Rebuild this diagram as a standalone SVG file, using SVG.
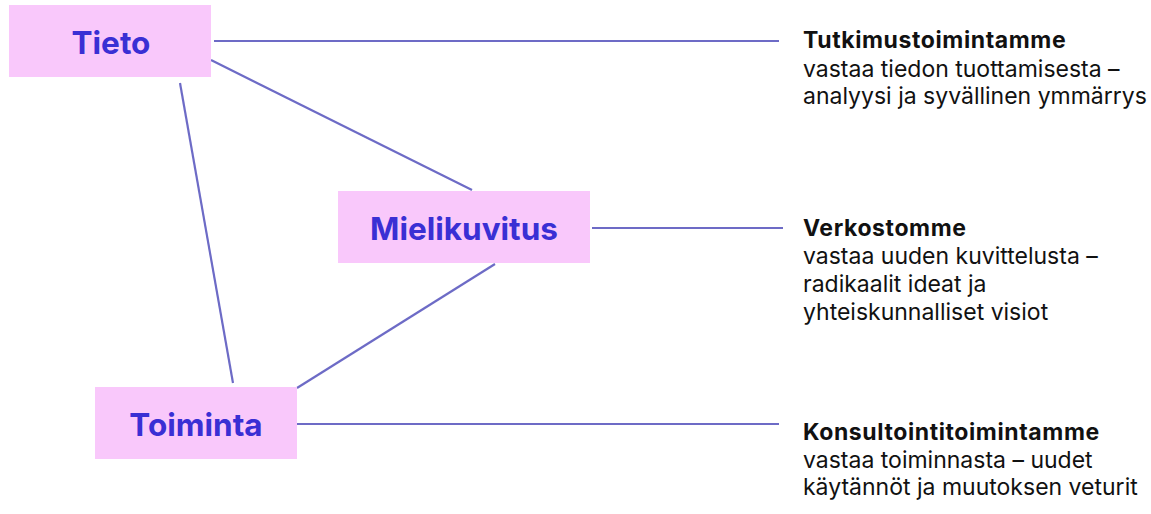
<svg xmlns="http://www.w3.org/2000/svg" width="1151" height="514" viewBox="0 0 1151 514">
<style>
.box{fill:#f9c8fb}
.nt{font-family:Inter,"DejaVu Sans",sans-serif;font-weight:700;font-size:31.5px;fill:#3a2fd4;text-anchor:middle}
.ln{stroke:#6d6bc6;stroke-width:2.2;fill:none}
.d{font-family:Inter,"DejaVu Sans",sans-serif;font-size:23px;fill:#111}
.b{font-weight:700;letter-spacing:0.6px}
</style>
<rect width="1151" height="514" fill="#fff"/>
<g id="connectors">
<line class="ln" x1="214" y1="41" x2="779" y2="41"/>
<line class="ln" x1="211" y1="60" x2="472" y2="190"/>
<line class="ln" x1="180" y1="83" x2="233" y2="383"/>
<line class="ln" x1="495" y1="264" x2="297" y2="388"/>
<line class="ln" x1="592" y1="228" x2="783" y2="228"/>
<line class="ln" x1="297" y1="424" x2="779" y2="424"/>
</g>
<g id="node-tieto"><rect class="box" x="9" y="5" width="202" height="72"/><text class="nt" x="111" y="54">Tieto</text></g>
<g id="node-mielikuvitus"><rect class="box" x="338" y="191" width="252" height="72"/><text class="nt" x="464" y="240">Mielikuvitus</text></g>
<g id="node-toiminta"><rect class="box" x="95" y="387" width="202" height="72"/><text class="nt" x="196" y="436">Toiminta</text></g>
<g id="desc-tieto"><text class="d"><tspan class="b" x="803" y="48">Tutkimustoimintamme</tspan><tspan x="803" y="77">vastaa tiedon tuottamisesta –</tspan><tspan x="803" y="104">analyysi ja syvällinen ymmärrys</tspan></text></g>
<g id="desc-mielikuvitus"><text class="d"><tspan class="b" x="803" y="236">Verkostomme</tspan><tspan x="803" y="264">vastaa uuden kuvittelusta –</tspan><tspan x="803" y="292">radikaalit ideat ja</tspan><tspan x="803" y="320">yhteiskunnalliset visiot</tspan></text></g>
<g id="desc-toiminta"><text class="d"><tspan class="b" x="803" y="440">Konsultointitoimintamme</tspan><tspan x="803" y="468">vastaa toiminnasta – uudet</tspan><tspan x="803" y="495">käytännöt ja muutoksen veturit</tspan></text></g>
</svg>
